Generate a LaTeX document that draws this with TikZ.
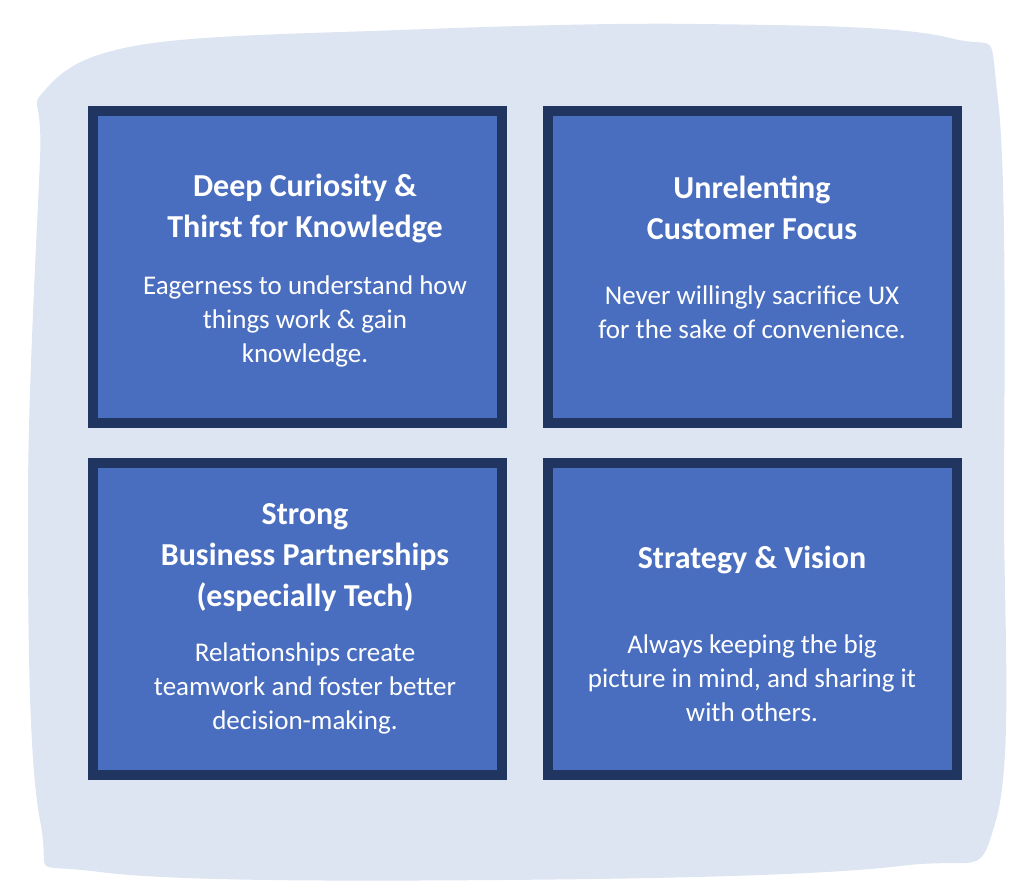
\documentclass[tikz,border=0pt]{standalone}
\usepackage{fontspec}
\setmainfont{Carlito}
\definecolor{blob}{HTML}{DDE4F2}
\definecolor{boxfill}{HTML}{4A6EBF}
\definecolor{boxline}{HTML}{203660}
\begin{document}
\begin{tikzpicture}[x=1pt,y=-1pt,
  card/.style={draw=boxline,line width=10pt,fill=boxfill,minimum width=409pt,minimum height=312pt,anchor=north west},
  ttl/.style={text=white,font=\fontsize{32}{41}\selectfont\bfseries,align=center},
  txt/.style={text=white,font=\fontsize{27}{34}\selectfont,align=center}]
\useasboundingbox (0,0) rectangle (1024,894);
\fill[blob] plot[smooth cycle,tension=0.6] coordinates{(45,90) (140,45) (400,30) (700,24) (950,38) (998,100) (1004,500) (996,820) (900,866) (500,880) (100,872) (40,820) (28,500) (40,160)};
\node[card] (a) at (88,106) {};
\node[card] (b) at (543,106) {};
\node[card] (c) at (88,458) {};
\node[card] (d) at (543,458) {};
\node[ttl] (at) at (305,208) {Deep Curiosity \&\\Thirst for Knowledge};
\node[txt] (ab) at (305,321) {Eagerness to understand how\\things work \& gain\\knowledge.};
\node[ttl] (bt) at (752,208) {Unrelenting\\Customer Focus};
\node[txt] (bb) at (752,312) {Never willingly sacrifice UX\\for the sake of convenience.};
\node[ttl] (ct) at (305,558) {Strong\\Business Partnerships\\(especially Tech)};
\node[txt] (cb) at (305,688) {Relationships create\\teamwork and foster better\\decision-making.};
\node[ttl] (dt) at (752,560) {Strategy \& Vision};
\node[txt] (db) at (752,678) {Always keeping the big\\picture in mind, and sharing it\\with others.};
\end{tikzpicture}
\end{document}
